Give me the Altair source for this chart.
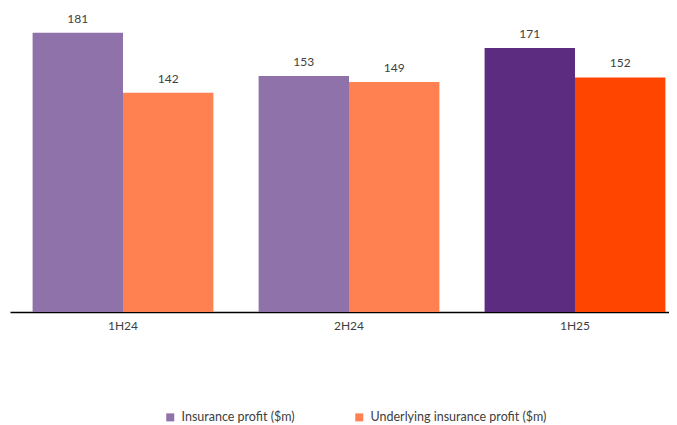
import altair as alt
import pandas as pd

periods = ["1H24", "2H24", "1H25"]
insurance_profit = [181, 153, 171]
underlying_profit = [142, 149, 152]
series_names = ["Insurance profit ($m)", "Underlying insurance profit ($m)"]
insurance_colors = ["#8F72AA", "#8F72AA", "#5B2C80"]
underlying_colors = ["#FF8050", "#FF8050", "#FF4500"]
legend_colors = ["#8F72AA", "#FF8050"]

rows = []
for i, p in enumerate(periods):
    rows.append({"period": p, "series": series_names[0], "value": insurance_profit[i], "color": insurance_colors[i]})
    rows.append({"period": p, "series": series_names[1], "value": underlying_profit[i], "color": underlying_colors[i]})
df = pd.DataFrame(rows)

FONT = "Lato"
TXT = "#404040"

x = alt.X("period:N", sort=periods, title=None,
          scale=alt.Scale(paddingInner=0.2, paddingOuter=0.1, range=[0, 678]),
          axis=alt.Axis(labelAngle=0, ticks=False, domainColor="#000000", domainWidth=1.5,
                        labelFont=FONT, labelFontSize=12, labelColor=TXT, labelPadding=8))
xo = alt.XOffset("series:N", sort=series_names, scale=alt.Scale(paddingInner=0, paddingOuter=0))
y = alt.Y("value:Q", scale=alt.Scale(domain=[0, 197], nice=False), axis=None)

base = alt.Chart(df)

bars = base.mark_bar().encode(
    x=x, xOffset=xo, y=y,
    color=alt.Color("color:N", scale=None),
)

labels = base.mark_text(dy=-14, font=FONT, fontSize=12, color=TXT).encode(
    x=x, xOffset=xo, y=y, text=alt.Text("value:Q"),
)

legend_layer = base.mark_point(opacity=0).encode(
    x=x, xOffset=xo, y=y,
    fill=alt.Fill("series:N", sort=series_names,
                  scale=alt.Scale(domain=series_names, range=legend_colors),
                  legend=alt.Legend(title=None, orient="none", direction="horizontal",
                                    legendX=154, legendY=403, symbolType="square",
                                    symbolSize=64, symbolOpacity=1, symbolStrokeWidth=0,
                                    labelFont=FONT, labelFontSize=12.5, labelColor=TXT,
                                    labelLimit=0, labelOffset=5, columnPadding=58)),
)

chart = alt.layer(bars, labels, legend_layer).properties(
    width=659, height=304,
    autosize=alt.AutoSizeParams(type="none"),
    padding={"left": 2, "top": 0, "right": 0, "bottom": 112},
).configure_view(stroke=None)

chart.save("out.html", embed_options={"renderer": "svg", "actions": False})
